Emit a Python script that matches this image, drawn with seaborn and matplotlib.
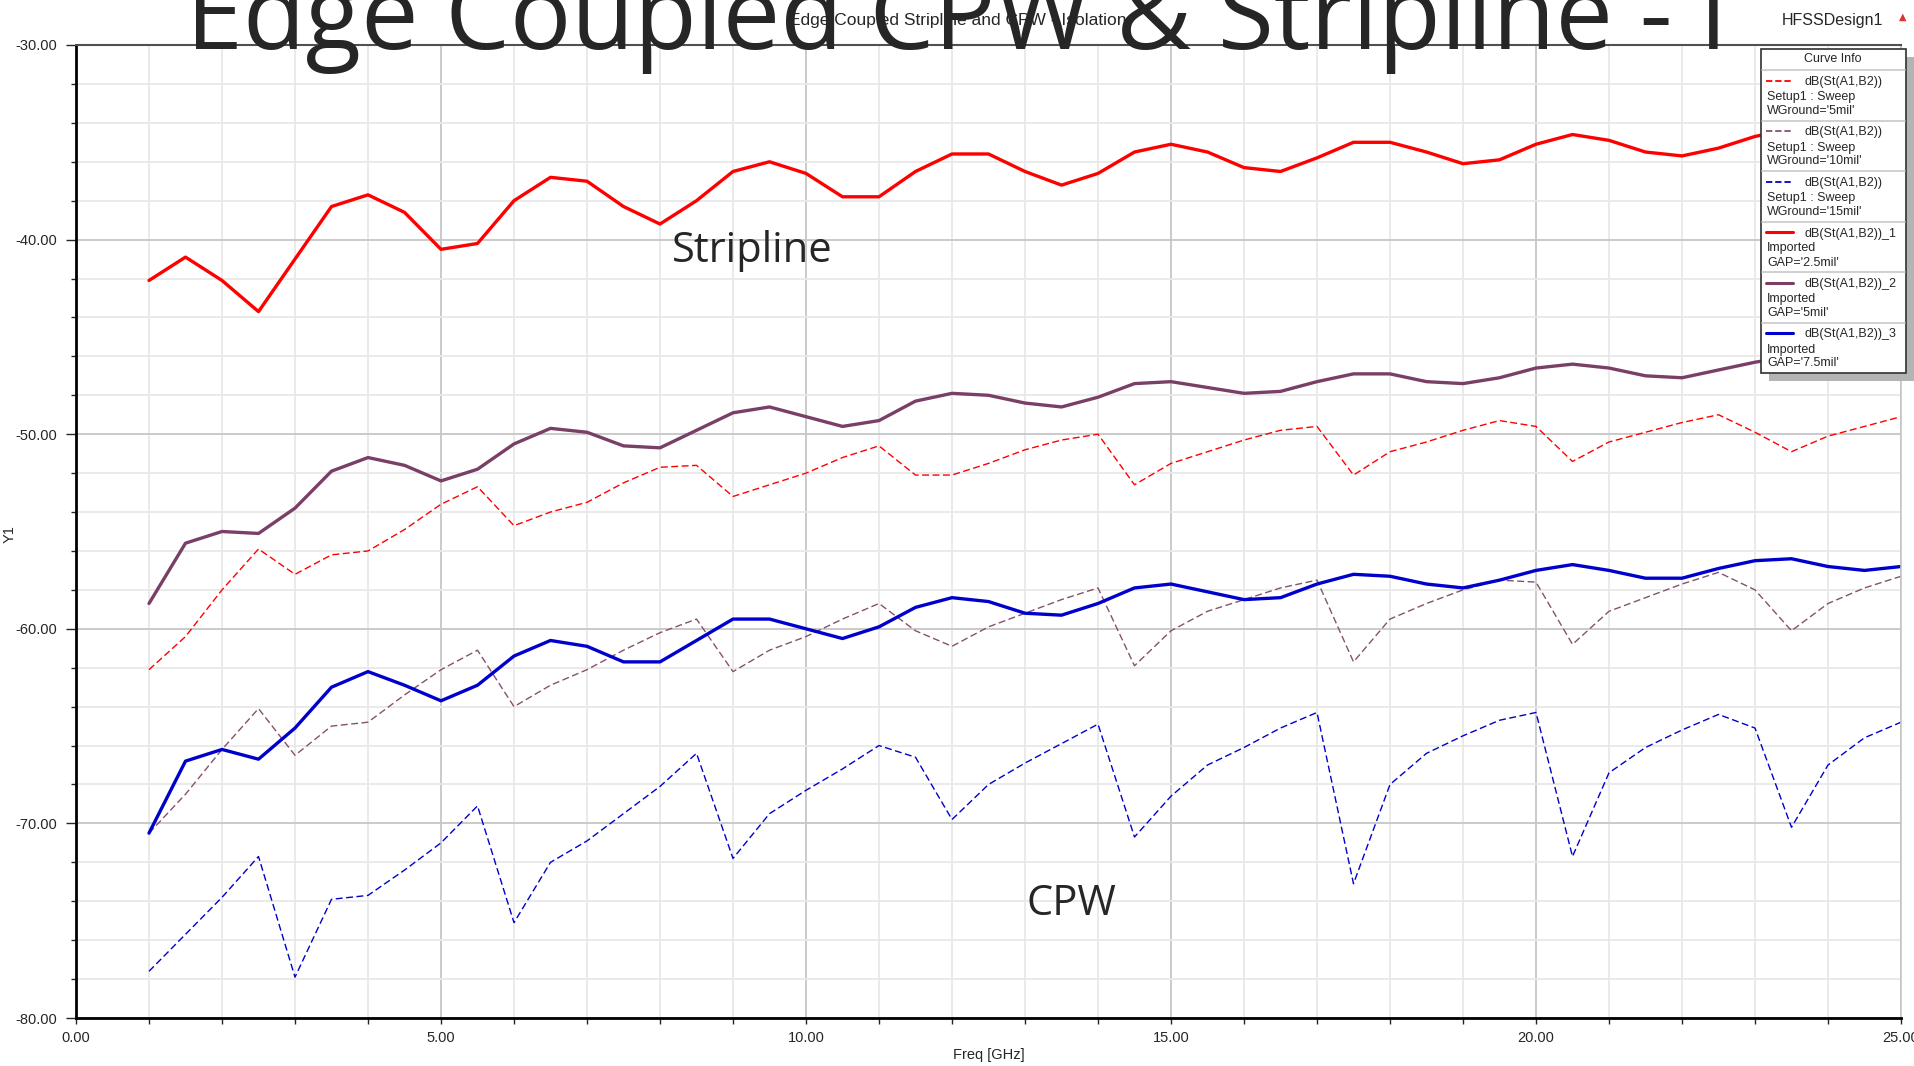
import numpy as np
import pandas as pd
import matplotlib
matplotlib.use("Agg")
import matplotlib.pyplot as plt
from matplotlib.ticker import MultipleLocator, FormatStrFormatter
from matplotlib.patches import Rectangle
import seaborn as sns

# frequency points (GHz)
freq_ghz = [1.0, 1.5, 2.0, 2.5, 3.0, 3.5, 4.0, 4.5, 5.0, 5.5,
            6.0, 6.5, 7.0, 7.5, 8.0, 8.5, 9.0, 9.5, 10.0, 10.5,
            11.0, 11.5, 12.0, 12.5, 13.0, 13.5, 14.0, 14.5, 15.0, 15.5,
            16.0, 16.5, 17.0, 17.5, 18.0, 18.5, 19.0, 19.5, 20.0, 20.5,
            21.0, 21.5, 22.0, 22.5, 23.0, 23.5, 24.0, 24.5, 25.0]

# CPW sweep (dashed)
wground_5 = [-62.1, -60.4, -58.0, -55.9, -57.2, -56.2, -56.0, -54.9, -53.6, -52.7,
             -54.7, -54.0, -53.5, -52.5, -51.7, -51.6, -53.2, -52.6, -52.0, -51.2,
             -50.6, -52.1, -52.1, -51.5, -50.8, -50.3, -50.0, -52.6, -51.5, -50.9,
             -50.3, -49.8, -49.6, -52.1, -50.9, -50.4, -49.8, -49.3, -49.6, -51.4,
             -50.4, -49.9, -49.4, -49.0, -49.9, -50.9, -50.1, -49.6, -49.1]
wground_10 = [-70.5, -68.5, -66.2, -64.1, -66.5, -65.0, -64.8, -63.4, -62.1, -61.1,
              -64.0, -62.9, -62.1, -61.1, -60.2, -59.5, -62.2, -61.1, -60.4, -59.5,
              -58.7, -60.1, -60.9, -59.9, -59.2, -58.5, -57.9, -61.9, -60.1, -59.1,
              -58.5, -57.9, -57.5, -61.7, -59.5, -58.7, -58.0, -57.5, -57.6, -60.8,
              -59.1, -58.4, -57.7, -57.1, -58.0, -60.1, -58.7, -57.9, -57.3]
wground_15 = [-77.6, -75.7, -73.8, -71.7, -77.9, -73.9, -73.7, -72.4, -71.0, -69.1,
              -75.1, -72.0, -70.9, -69.5, -68.1, -66.4, -71.8, -69.5, -68.3, -67.2,
              -66.0, -66.6, -69.8, -68.0, -66.9, -65.9, -64.9, -70.7, -68.6, -67.0,
              -66.1, -65.1, -64.3, -73.1, -68.0, -66.4, -65.5, -64.7, -64.3, -71.7,
              -67.4, -66.1, -65.2, -64.4, -65.1, -70.2, -67.0, -65.6, -64.8]

# Stripline imported (solid)
gap_2p5 = [-42.1, -40.9, -42.1, -43.7, -41.0, -38.3, -37.7, -38.6, -40.5, -40.2,
           -38.0, -36.8, -37.0, -38.3, -39.2, -38.0, -36.5, -36.0, -36.6, -37.8,
           -37.8, -36.5, -35.6, -35.6, -36.5, -37.2, -36.6, -35.5, -35.1, -35.5,
           -36.3, -36.5, -35.8, -35.0, -35.0, -35.5, -36.1, -35.9, -35.1, -34.6,
           -34.9, -35.5, -35.7, -35.3, -34.7, -34.3, -34.1, -34.4, -34.7]
gap_5 = [-58.7, -55.6, -55.0, -55.1, -53.8, -51.9, -51.2, -51.6, -52.4, -51.8,
         -50.5, -49.7, -49.9, -50.6, -50.7, -49.8, -48.9, -48.6, -49.1, -49.6,
         -49.3, -48.3, -47.9, -48.0, -48.4, -48.6, -48.1, -47.4, -47.3, -47.6,
         -47.9, -47.8, -47.3, -46.9, -46.9, -47.3, -47.4, -47.1, -46.6, -46.4,
         -46.6, -47.0, -47.1, -46.7, -46.3, -46.0, -45.8, -46.1, -46.4]
gap_7p5 = [-70.5, -66.8, -66.2, -66.7, -65.1, -63.0, -62.2, -62.9, -63.7, -62.9,
           -61.4, -60.6, -60.9, -61.7, -61.7, -60.6, -59.5, -59.5, -60.0, -60.5,
           -59.9, -58.9, -58.4, -58.6, -59.2, -59.3, -58.7, -57.9, -57.7, -58.1,
           -58.5, -58.4, -57.7, -57.2, -57.3, -57.7, -57.9, -57.5, -57.0, -56.7,
           -57.0, -57.4, -57.4, -56.9, -56.5, -56.4, -56.8, -57.0, -56.8]

legend_lines = [
    ("dB(St(A1,B2))", "Setup1 : Sweep", "WGround='5mil'"),
    ("dB(St(A1,B2))", "Setup1 : Sweep", "WGround='10mil'"),
    ("dB(St(A1,B2))", "Setup1 : Sweep", "WGround='15mil'"),
    ("dB(St(A1,B2))_1", "Imported", "GAP='2.5mil'"),
    ("dB(St(A1,B2))_2", "Imported", "GAP='5mil'"),
    ("dB(St(A1,B2))_3", "Imported", "GAP='7.5mil'"),
]
values = [wground_5, wground_10, wground_15, gap_2p5, gap_5, gap_7p5]
colors = ["#FF0000", "#84526F", "#0000CC", "#FF0000", "#7A3F66", "#0000CC"]
dashed = (0, (5, 2.5))
styles = [dashed, dashed, dashed, "-", "-", "-"]
widths = [1.0, 1.0, 1.0, 2.4, 2.4, 2.4]

sns.set_style("white")
plt.rcParams['font.family'] = ['Liberation Sans', 'DejaVu Sans']

W, H = 1915, 1066
fig = plt.figure(figsize=(W / 100, H / 100), dpi=100)
ax = fig.add_axes([76 / W, 1 - 1018 / H, (1901 - 76) / W, (1018 - 45) / H])

for vals, c, ls, lw in zip(values, colors, styles, widths):
    sns.lineplot(x=freq_ghz, y=vals, ax=ax, color=c, linestyle=ls, lw=lw,
                 legend=False)

ax.set_xlim(0, 25)
ax.set_ylim(-80, -30)
ax.xaxis.set_major_locator(MultipleLocator(5))
ax.xaxis.set_minor_locator(MultipleLocator(1))
ax.yaxis.set_major_locator(MultipleLocator(10))
ax.yaxis.set_minor_locator(MultipleLocator(2))
ax.xaxis.set_major_formatter(FormatStrFormatter('%.2f'))
ax.yaxis.set_major_formatter(FormatStrFormatter('%.2f'))
ax.grid(which='major', color='#C6C6C6', lw=1.3)
ax.grid(which='minor', color='#E8E8E8', lw=1.3)
ax.set_axisbelow(True)
ax.tick_params(axis='y', which='major', direction='out', length=7.5, width=1,
               labelsize=10.5, pad=6, left=True)
ax.tick_params(axis='y', which='minor', direction='out', length=3.6, width=1, left=True)
ax.tick_params(axis='x', which='both', direction='out', length=4, width=1,
               labelsize=10.5, pad=5, bottom=True)
for s in ['left', 'bottom']:
    ax.spines[s].set_color('black')
    ax.spines[s].set_linewidth(2)
ax.spines['top'].set_color('#505050')
ax.spines['top'].set_linewidth(1.5)
ax.spines['right'].set_color('#C6C6C6')
ax.spines['right'].set_linewidth(1.2)

ax.set_xlabel("Freq [GHz]", fontsize=10.5)
ax.xaxis.set_label_coords(0.5003, -(1055 - 1018) / 973)
ax.xaxis.label.set_va('center')
ax.set_ylabel("")
fig.text(10 / W, 1 - 534 / H, "Y1", rotation=90, ha='center', va='center', fontsize=10.5)

ax.text(9.26, -41.15, "Stripline", fontsize=30, family='Open Sans', ha='center', va='baseline')
ax.text(13.64, -74.7, "CPW", fontsize=30, family='Open Sans', ha='center', va='baseline')

# small header texts
fig.text(958 / W, 1 - 21 / H, "Edge Coupled Stripline and CPW - Isolation",
         ha='center', va='center', fontsize=12.5)
fig.text(1883 / W, 1 - 21 / H, "HFSSDesign1", ha='right', va='center', fontsize=11.5)
fig.text(1903 / W, 1 - 17 / H, "\u25b2", color='#E03030', ha='center', va='center',
         fontsize=7, family='DejaVu Sans')

# legend ("Curve Info" box)
lx0, ly0, lwid, lhgt = 1761, 49, 145, 324
fig.add_artist(Rectangle(((lx0 + 8) / W, 1 - (ly0 + lhgt + 8) / H), lwid / W, lhgt / H,
                         transform=fig.transFigure, facecolor='#B4B4B4',
                         edgecolor='none', zorder=1))
leg = fig.add_axes([lx0 / W, 1 - (ly0 + lhgt) / H, lwid / W, lhgt / H], zorder=2)
leg.set_xlim(0, lwid)
leg.set_ylim(lhgt, 0)
leg.axis('off')
leg.add_patch(Rectangle((0, 0), lwid, lhgt, facecolor='white', edgecolor='#303030',
                        lw=1.2, clip_on=False))
leg.text(72, 10.5, "Curve Info", ha='center', va='center', fontsize=9)
step = (lhgt - 21) / 6
for i, (t1, t2, t3) in enumerate(legend_lines):
    top = 21 + i * step
    leg.plot([1, lwid - 1], [top, top], color='#C8C8C8', lw=1.2)
    sample_lw = 1.3 if i < 3 else 2.2
    leg.plot([5, 32], [top + 10.5, top + 10.5], color=colors[i],
             linestyle=(0, (3.5, 1.6)) if i < 3 else '-', lw=sample_lw)
    leg.text(44, top + 15, t1, ha='left', va='baseline', fontsize=9)
    leg.text(6, top + 30, t2, ha='left', va='baseline', fontsize=9)
    leg.text(6, top + 44, t3, ha='left', va='baseline', fontsize=9)

# big slide title, fitted to its width in the reference
title = fig.text(957 / W, 1 - 49 / H, "Edge Coupled CPW & Stripline - I",
                 ha='center', va='baseline', fontsize=60, family='Open Sans', zorder=5)
renderer = fig.canvas.get_renderer()
bw = title.get_window_extent(renderer).width
title.set_fontsize(60 * 1542 / bw)

fig.savefig("out.png", dpi=100)
